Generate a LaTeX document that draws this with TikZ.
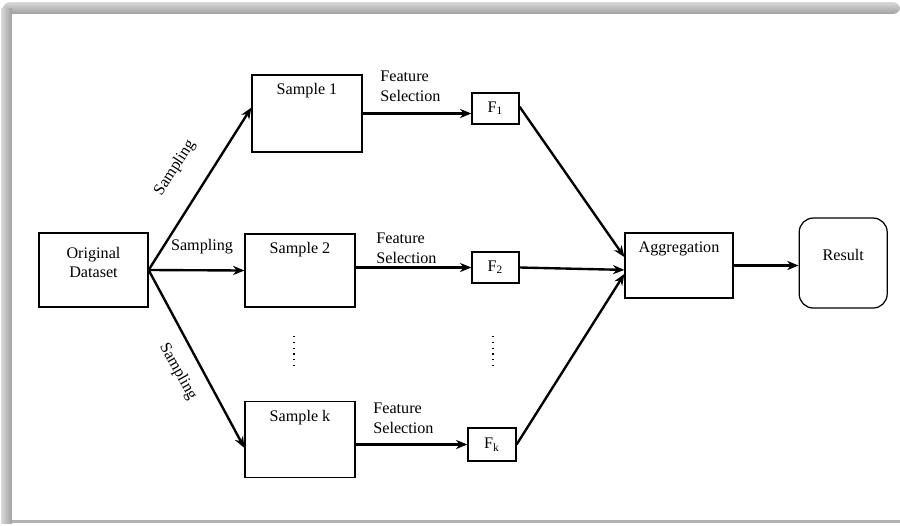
\documentclass[tikz,border=0pt]{standalone}
\usepackage{fontspec}
\setmainfont{Liberation Serif}
\usetikzlibrary{positioning}
\usetikzlibrary{arrows.meta}

\begin{document}
\begin{tikzpicture}[x=0.02cm, y=-0.02cm, font=\fontsize{9.2}{11.3}\selectfont,
    box/.style={draw, line width=0.7pt, inner sep=0pt},
    toptext/.style={anchor=north, yshift=-5pt, align=center, inner sep=0pt},
    flow/.style={-{Stealth[length=6.5pt, width=5.2pt]}, line width=1.35pt},
    tag/.style={anchor=west, align=left, inner sep=0pt},
    vdots/.style={line width=0.7pt, dash pattern=on 0.7pt off 2.6pt}]

    \useasboundingbox (0,0) rectangle (900,525);
    \shade[top color=gray!30, bottom color=gray!75, rounded corners=4pt] (3,2) rectangle (900,14);
    \shade[left color=gray!30, right color=gray!75] (1,8) rectangle (12,523);
    \fill[gray!60] (12,520) rectangle (900,523);
    \fill[white] (12,14) rectangle (900,520);

    \node[box, minimum width=2.18cm, minimum height=1.48cm, label={[toptext, yshift=-3pt]north:Original\\Dataset}] (data) at (93.5,270) {};

    \node[box, minimum width=2.2cm, minimum height=1.54cm, label={[toptext]north:Sample 1}] (s1) at (307,113.5) {};
    \node[box, minimum width=2.2cm, minimum height=1.46cm, label={[toptext]north:Sample 2}] (s2) at (300,270.5) {};
    \node[box, minimum width=2.2cm, minimum height=1.52cm, label={[toptext]north:Sample k}] (sk) at (300,439.5) {};

    \node[box, minimum width=0.94cm, minimum height=0.62cm] (f1) at (495.5,108.5) {F\textsubscript{1}};
    \node[box, minimum width=0.94cm, minimum height=0.62cm] (f2) at (495.5,267.5) {F\textsubscript{2}};
    \node[box, minimum width=0.96cm, minimum height=0.66cm] (fk) at (492,444.5) {F\textsubscript{k}};

    \node[box, minimum width=2.16cm, minimum height=1.3cm, label={[toptext]north:Aggregation}] (agg) at (679,265.5) {};
    \node[box, rounded corners=8pt, minimum width=1.76cm, minimum height=1.8cm, right=1.3cm of agg, yshift=1.4pt, label={[yshift=4.5pt]center:Result}] (res) {};

    \node[rotate=57] (smp1) at (175,168) {Sampling};
    \node (smp2) at (202,247) {Sampling};
    \node[rotate=-61] (smpk) at (178,372) {Sampling};

    \node[tag] (fs1) at (380,86) {Feature\\Selection};
    \node[tag] (fs2) at (376,248) {Feature\\Selection};
    \node[tag] (fsk) at (373,418) {Feature\\Selection};

    \draw[flow] (data.east) -- ([yshift=3.4pt]s1.west);
    \draw[flow] (data.east) -- (s2.west);
    \draw[flow] (data.east) -- ([yshift=-4.8pt]sk.west);

    \draw[flow] (s1.east) -- (s1.east -| f1.west);
    \draw[flow] (f2.west -| s2.east) -- (f2.west);
    \draw[flow] (fk.west -| sk.east) -- (fk.west);

    \draw[flow] ([yshift=1pt]f1.east) -- ([yshift=4.8pt]agg.west);
    \draw[flow] (f2.east) -- ([yshift=-2.5pt]agg.west);
    \draw[flow] (fk.east) -- ([yshift=-4.8pt]agg.west);

    \draw[flow] (agg.east) -- (agg.east -| res.west);

    \draw[vdots] (294,336) -- (294,366);
    \draw[vdots] (493,336) -- (493,366);
\end{tikzpicture}
\end{document}
